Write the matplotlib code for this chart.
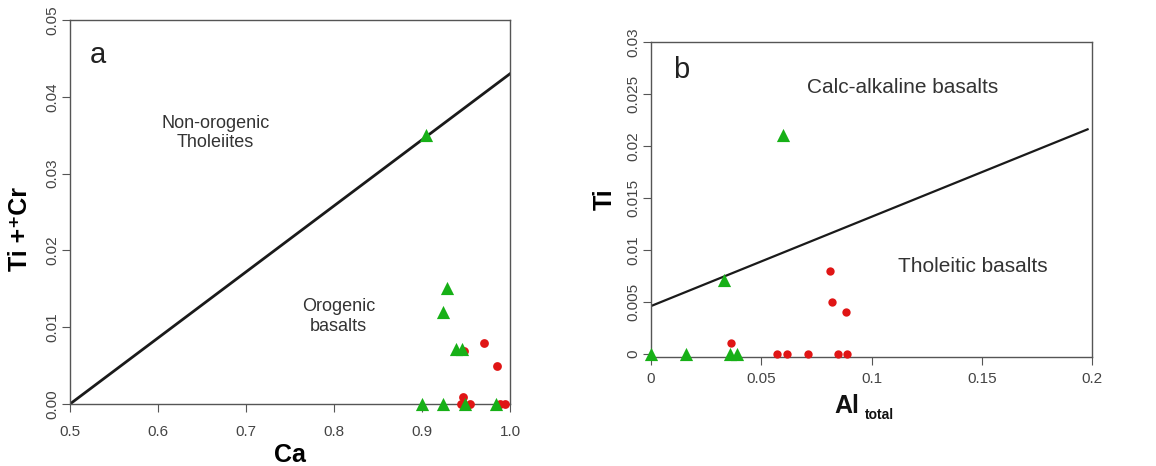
import matplotlib.pyplot as plt

plt.rcParams['font.family'] = ['Liberation Sans', 'DejaVu Sans']

GREEN = '#17b017'
RED = '#e01515'
TICK_GREY = '#444444'

# panel a: Ca vs Ti + Cr
a_line_x = [0.5, 1.0]
a_line_y = [0.0, 0.043]
a_tri_x = [0.904, 0.928, 0.924, 0.939, 0.945, 0.900, 0.924, 0.949, 0.984]
a_tri_y = [0.035, 0.0151, 0.012, 0.0072, 0.0072, 0.0, 0.0, 0.0, 0.0]
a_dot_x = [0.948, 0.970, 0.985, 0.947, 0.944, 0.955, 0.989, 0.994]
a_dot_y = [0.0069, 0.0079, 0.0049, 0.0009, 0.0, 0.0, 0.0, 0.0]
a_xticks = [0.5, 0.6, 0.7, 0.8, 0.9, 1.0]
a_yticks = [0.0, 0.01, 0.02, 0.03, 0.04, 0.05]

# panel b: Al total vs Ti
b_line_x = [0.0, 0.198]
b_line_y = [0.0046, 0.0216]
b_tri_x = [0.060, 0.0331, 0.0, 0.016, 0.036, 0.039]
b_tri_y = [0.0211, 0.0071, 0.0, 0.0, 0.0, 0.0]
b_dot_x = [0.0812, 0.0823, 0.0883, 0.0362, 0.057, 0.0616, 0.0714, 0.085, 0.089]
b_dot_y = [0.0080, 0.0050, 0.0040, 0.0010, 0.0, 0.0, 0.0, 0.0, 0.0]
b_xticks = [0, 0.05, 0.1, 0.15, 0.2]
b_xlabels = ['0', '0.05', '0.1', '0.15', '0.2']
b_yticks = [0, 0.005, 0.01, 0.015, 0.02, 0.025, 0.03]
b_ylabels = ['0', '0.005', '0.01', '0.015', '0.02', '0.025', '0.03']

fig = plt.figure(figsize=(11.56, 4.66), dpi=100)
ax1 = fig.add_axes([70 / 1156, 1 - 404 / 466, 440 / 1156, 384 / 466])
ax2 = fig.add_axes([651 / 1156, 1 - 357 / 466, 441 / 1156, 315 / 466])


def style(ax, xpad):
    for s in ax.spines.values():
        s.set_color('#555555')
        s.set_linewidth(1.0)
    ax.tick_params(direction='out', length=6, colors='#555555', labelcolor=TICK_GREY, labelsize=11)
    ax.tick_params(axis='x', pad=xpad)
    ax.tick_params(axis='y', pad=2)
    for lab in ax.get_yticklabels():
        lab.set_rotation(90)
        lab.set_va('center')


# panel a
ax1.plot(a_line_x, a_line_y, color='#1a1a1a', lw=2)
ax1.scatter(a_dot_x, a_dot_y, s=40, color=RED, marker='o', zorder=3, clip_on=False, linewidths=0)
ax1.scatter(a_tri_x, a_tri_y, s=90, color=GREEN, marker='^', zorder=4, clip_on=False, linewidths=0)
ax1.set_xlim(0.5, 1.0)
ax1.set_ylim(0, 0.05)
ax1.set_xticks(a_xticks)
ax1.set_xticklabels(['%.1f' % v for v in a_xticks])
ax1.set_yticks(a_yticks)
ax1.set_yticklabels(['%.2f' % v for v in a_yticks])
ax1.set_xlabel('Ca', fontsize=18, fontweight='bold', labelpad=3)
ax1.set_ylabel('Ti +\u207aCr', fontsize=18, fontweight='bold')
ax1.yaxis.set_label_coords(-0.086, 0.455)
ax1.text(0.523, 0.0455, 'a', fontsize=21, ha='left', va='center', color='#222222')
ax1.text(0.665, 0.0353, 'Non-orogenic\nTholeiites', fontsize=13, ha='center', va='center',
         color='#333333', linespacing=1.2)
ax1.text(0.805, 0.0114, 'Orogenic\nbasalts', fontsize=13, ha='center', va='center',
         color='#333333', linespacing=1.2)
style(ax1, 9)

# panel b
ax2.plot(b_line_x, b_line_y, color='#1a1a1a', lw=1.6)
ax2.scatter(b_dot_x, b_dot_y, s=36, color=RED, marker='o', zorder=3, clip_on=False, linewidths=0)
ax2.scatter(b_tri_x, b_tri_y, s=90, color=GREEN, marker='^', zorder=4, clip_on=False, linewidths=0)
ax2.set_xlim(0, 0.2)
ax2.set_ylim(-0.0003, 0.03)
ax2.set_xticks(b_xticks)
ax2.set_xticklabels(b_xlabels)
ax2.set_yticks(b_yticks)
ax2.set_yticklabels(b_ylabels)
ax2.text(0.444, -0.178, 'Al', transform=ax2.transAxes, fontsize=18, fontweight='bold',
         ha='center', va='baseline', color='#111111')
ax2.text(0.517, -0.196, 'total', transform=ax2.transAxes, fontsize=10, fontweight='bold',
         ha='center', va='baseline', color='#111111')
ax2.set_ylabel('Ti', fontsize=18, fontweight='bold')
ax2.yaxis.set_label_coords(-0.077, 0.5)
ax2.text(0.0098, 0.0273, 'b', fontsize=21, ha='left', va='center', color='#222222')
ax2.text(0.114, 0.0256, 'Calc-alkaline basalts', fontsize=15, ha='center', va='center', color='#333333')
ax2.text(0.146, 0.0084, 'Tholeitic basalts', fontsize=15, ha='center', va='center', color='#333333')
style(ax2, 5)

fig.savefig('out.png', dpi=100)
